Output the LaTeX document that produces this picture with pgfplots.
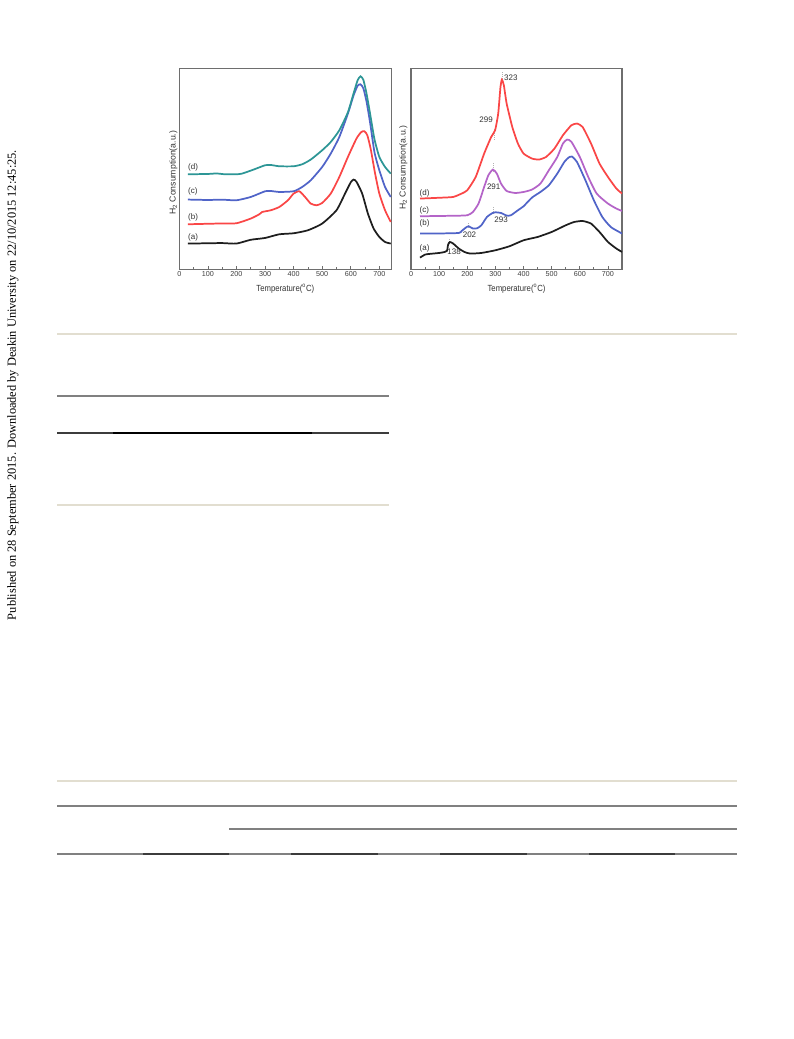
\documentclass[border=0pt]{standalone}
\usepackage{pgfplots}
\pgfplotsset{compat=1.18}
\usepackage{graphicx}
\usepackage{fontspec}
\setmainfont{Liberation Sans}
\newfontfamily\seriffont{Liberation Serif}

\definecolor{cA}{RGB}{30,30,30}
\definecolor{cRed}{RGB}{250,70,70}
\definecolor{cBlue}{RGB}{80,100,200}
\definecolor{cTeal}{RGB}{45,150,150}
\definecolor{cPurp}{RGB}{180,100,200}
\definecolor{frame}{RGB}{110,110,110}
\definecolor{beige}{RGB}{226,222,208}
\definecolor{rule}{RGB}{128,128,128}
\definecolor{ruledark}{RGB}{60,60,60}

\tikzset{lbl/.style={font=\fontsize{6}{7}\selectfont, text=black!80, inner sep=0pt}}

\pgfplotsset{
  tpr/.style={
    scale only axis, width=159pt, height=150.75pt,
    anchor=north west,
    ymin=0, ymax=201,
    axis line style={frame, line width=0.9pt},
    ytick=\empty,
    xtick={0,100,...,700},
    minor x tick num=1,
    xtick pos=bottom,
    tick align=inside,
    major tick length=2.5pt, minor tick length=1.5pt,
    tick style={frame, line width=0.6pt},
    /pgf/number format/assume math mode=true,
    xticklabel style={font=\fontsize{5.4}{6}\selectfont, text=black!75, inner sep=1pt, yshift=-0.5pt},
    xlabel={Temperature(\textsuperscript{o}C)},
    xlabel style={font=\fontsize{5.8}{7}\selectfont, text=black!80, yscale=1.15, at={(axis description cs:0.5,-0.095)}, anchor=center},
    ylabel={H\textsubscript{2} Consumption(a.u.)},
    ylabel style={font=\fontsize{6.5}{7}\selectfont, text=black!80, anchor=center, rotate=0},
    every axis plot/.append style={line width=1.3pt, smooth, tension=0.35},
    clip=true,
  },
}

\begin{document}
\begin{tikzpicture}
% page
\path[use as bounding box, fill=white] (0,0) rectangle (594.75pt,-779.25pt);

% side note
\node[rotate=90, inner sep=0pt] at (9.75pt,-288.75pt)
  {\resizebox{352.5pt}{!}{\seriffont Published on 28 September 2015. Downloaded by Deakin University on 22/10/2015 12:45:25.}};

% table rules
\draw[beige, line width=1.5pt] (42.75pt,-250.5pt) -- (552.75pt,-250.5pt);
\draw[rule, line width=0.8pt] (42.75pt,-297pt) -- (291.75pt,-297pt);
\draw[ruledark, line width=0.8pt] (42.75pt,-324.75pt) -- (291.75pt,-324.75pt);
\draw[black, line width=0.8pt] (84.75pt,-324.75pt) -- (234pt,-324.75pt);
\draw[beige, line width=1.5pt] (42.75pt,-378.75pt) -- (291.75pt,-378.75pt);
\draw[beige, line width=1.5pt] (42.75pt,-585.75pt) -- (552.75pt,-585.75pt);
\draw[rule, line width=0.8pt] (42.75pt,-604.5pt) -- (552.75pt,-604.5pt);
\draw[rule, line width=0.8pt] (171.75pt,-621.75pt) -- (552.75pt,-621.75pt);
\draw[rule, line width=0.8pt] (42.75pt,-640.5pt) -- (552.75pt,-640.5pt);
\foreach \a/\b in {107.25/171.75, 218.25/283.5, 330/395.25, 441.75/506.25}
  \draw[ruledark, line width=0.8pt] (\a pt,-640.5pt) -- (\b pt,-640.5pt);

% ---------------- left panel ----------------
\begin{axis}[tpr, at={(134.5pt,-51.2pt)}, xmin=0, xmax=742,
  ylabel style={at={(axis description cs:-0.028,0.48)}}]
% (a)
\addplot[cA] coordinates {(30,25.7)(100,26)(150,26.2)(200,25.7)(250,29.5)(300,31.3)(350,35)(400,36)(450,39)(500,45.7)(550,59)(580,75.7)(600,87)(610,89.7)(620,87.5)(640,75.7)(660,55.7)(680,40.7)(700,32.3)(720,27.3)(740,25.7)};
% (b)
\addplot[cRed] coordinates {(30,45)(100,45.5)(150,45.8)(200,46)(250,50.7)(280,55)(290,57.3)(320,59)(350,62.3)(380,69)(400,75.7)(420,78)(440,72.3)(460,65.7)(480,64)(500,66.3)(530,75.7)(560,92.3)(590,112.3)(620,130.7)(637,137.3)(648,138)(658,134)(670,120)(685,96)(700,75.7)(720,59)(740,47.3)};
% (c)
\addplot[cBlue] coordinates {(30,69.7)(100,69.3)(150,69.6)(200,69)(250,72.3)(300,78)(320,78.3)(350,77.3)(400,78)(430,82.3)(460,89)(500,102.3)(530,115.7)(560,132.3)(590,155.7)(610,174)(624,183.5)(634,185)(644,181)(655,168)(668,146)(683,117)(700,99)(720,82.3)(740,72.3)};
% (d)
\addplot[cTeal] coordinates {(30,95)(100,95.3)(130,95.8)(160,95)(200,95)(220,95.7)(260,99.7)(300,104)(320,104.3)(350,103)(400,103)(430,105)(460,109.7)(500,119)(530,127.3)(560,139)(590,157)(610,176)(624,189)(634,193)(644,189.5)(655,176)(668,155)(683,130)(700,112.3)(720,102.3)(740,95.7)};
\node[lbl, anchor=west] at (axis cs:30,32) {(a)};
\node[lbl, anchor=west] at (axis cs:30,52) {(b)};
\node[lbl, anchor=west] at (axis cs:30,78) {(c)};
\node[lbl, anchor=west] at (axis cs:30,102) {(d)};
\end{axis}

% ---------------- right panel ----------------
\begin{axis}[tpr, at={(308.25pt,-51.2pt)}, xmin=0, xmax=750, width=158.25pt,
  ylabel style={at={(axis description cs:-0.036,0.505)}}]
% peak markers
\addplot[gray!60, line width=0.4pt, densely dotted, sharp plot] coordinates {(323,187)(323,198)};
\addplot[gray!60, line width=0.4pt, densely dotted, sharp plot] coordinates {(297,130)(297,141)};
\addplot[gray!60, line width=0.4pt, densely dotted, sharp plot] coordinates {(291,98)(291,106)};
\addplot[gray!60, line width=0.4pt, densely dotted, sharp plot] coordinates {(293,56)(293,62)};
\addplot[gray!60, line width=0.4pt, densely dotted, sharp plot] coordinates {(202,42)(202,47)};
\addplot[gray!60, line width=0.4pt, densely dotted, sharp plot] coordinates {(136,26)(136,31)};
% (a)
\addplot[cA, tension=0.3] coordinates {(32,11.7)(50,14.7)(60,15.2)(100,16.3)(120,17.3)(128,18.5)(132,24.7)(138,27.3)(150,25.7)(170,20.7)(190,17.3)(210,15.7)(250,16.3)(300,19)(350,23)(400,29)(450,32.3)(500,37.3)(550,44)(580,47.3)(610,48.3)(640,45.7)(670,37.3)(700,27.3)(730,20.7)(750,17.3)};
% (b)
\addplot[cBlue, tension=0.35] coordinates {(32,35.7)(100,35.8)(170,36.3)(180,38.3)(195,41.7)(205,43)(220,40.7)(235,41)(250,44)(270,52.3)(290,56.3)(300,57)(320,56.3)(340,53.7)(355,54)(380,59)(400,63)(430,71.7)(460,77.3)(490,84)(520,95.7)(545,107.3)(560,111.7)(572,112.7)(590,107.3)(620,89)(650,69)(680,52.3)(710,42.3)(740,37.3)(750,35.7)};
% (c)
\addplot[cPurp, tension=0.35] coordinates {(32,53)(100,53.3)(150,53.5)(200,54)(220,57.3)(240,65.7)(260,82.3)(275,94)(291,99.7)(305,95.7)(320,85.7)(340,78.3)(370,76.3)(400,77.3)(430,79.7)(460,85.7)(490,99)(520,112.3)(540,125.7)(555,129.7)(570,127.5)(600,112.3)(630,92.3)(660,75.7)(700,65.7)(730,60.7)(750,58.3)};
% (d)
\addplot[cRed, tension=0.3] coordinates {(32,70.7)(100,71.5)(150,72.3)(180,75.7)(200,79)(230,92.3)(260,115.7)(285,132.3)(299,139)(310,155.7)(318,182.3)(323,189.7)(330,184)(340,165.7)(360,142.3)(380,125.7)(400,115.7)(430,110.7)(455,109.7)(480,112.3)(510,120.7)(540,134)(570,144)(590,145.7)(610,142.3)(640,125.7)(670,105.7)(700,92.3)(730,80.7)(750,75.7)};
\node[lbl, anchor=west] at (axis cs:30,20.7) {(a)};
\node[lbl, anchor=west] at (axis cs:30,45.7) {(b)};
\node[lbl, anchor=west] at (axis cs:30,59) {(c)};
\node[lbl, anchor=west] at (axis cs:30,76.3) {(d)};
\node[lbl] at (axis cs:153,17.5) {138};
\node[lbl] at (axis cs:208,35) {202};
\node[lbl] at (axis cs:320,50) {293};
\node[lbl] at (axis cs:294,83) {291};
\node[lbl] at (axis cs:267,149.7) {299};
\node[lbl, anchor=west] at (axis cs:330,192) {323};
\end{axis}
\end{tikzpicture}
\end{document}
